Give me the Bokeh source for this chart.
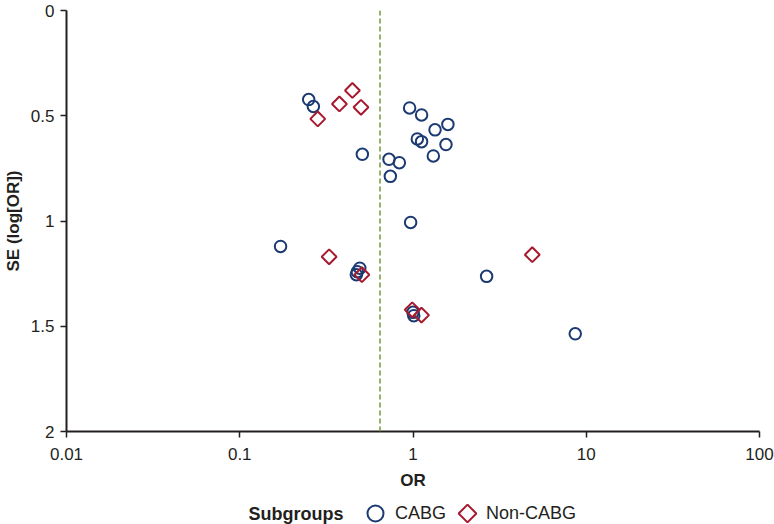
import math
from bokeh.plotting import figure
from bokeh.layouts import column
from bokeh.models import (Range1d, FixedTicker, CustomJSTickFormatter, Span,
                          Legend, LegendItem, Label)
from bokeh.embed import file_html
from bokeh.resources import INLINE

# ---- data ----
cabg_or = [0.250, 0.266, 0.510, 0.727, 0.834, 0.740, 0.956, 1.121, 1.34, 1.59,
           1.059, 1.121, 1.55, 1.31, 0.172, 0.493, 0.477, 0.471, 0.969, 2.66,
           8.64, 1.00, 1.01]
cabg_se = [0.423, 0.456, 0.683, 0.707, 0.723, 0.788, 0.463, 0.496, 0.567, 0.541,
           0.610, 0.623, 0.637, 0.691, 1.121, 1.224, 1.241, 1.255, 1.007, 1.263,
           1.536, 1.434, 1.450]
noncabg_or = [0.282, 0.376, 0.447, 0.501, 0.328, 0.507, 4.88, 0.99, 1.12]
noncabg_se = [0.515, 0.444, 0.380, 0.460, 1.170, 1.255, 1.160, 1.422, 1.447]
pooled_or = 0.645
x_ticks = [0.01, 0.1, 1, 10, 100]
y_ticks = [0, 0.5, 1, 1.5, 2]
groups = ["CABG", "Non-CABG"]
legend_title = "Subgroups"

FONT = "Liberation Sans"
AX = "#231f20"
NAVY = "#1c3a72"
RED = "#a6192e"
GREEN = "#79a043"
W = 774
LEFT, RIGHT = 66, 15

CIRCLE = dict(marker="circle", size=11.5, fill_alpha=0, line_color=NAVY, line_width=2)
DIAMOND = dict(marker="square", size=10.5, angle=math.pi / 4, fill_alpha=0,
               line_color=RED, line_width=2)

p = figure(width=W, height=493, x_axis_type="log",
           x_range=Range1d(0.01, 100), y_range=Range1d(2, 0),
           output_backend="svg", toolbar_location=None,
           min_border_left=LEFT, min_border_right=RIGHT, min_border_top=10,
           min_border_bottom=62)
p.outline_line_color = None
p.xgrid.visible = False
p.ygrid.visible = False

# axes
xa = p.xaxis[0]
xa.ticker = FixedTicker(ticks=x_ticks)
xa.formatter = CustomJSTickFormatter(code="return tick.toString();")
xa.minor_tick_line_color = None
ya = p.yaxis[0]
ya.ticker = FixedTicker(ticks=y_ticks)
ya.formatter = CustomJSTickFormatter(code="return tick.toString();")
ya.minor_tick_line_color = None
for ax in (xa, ya):
    ax.axis_line_color = AX
    ax.axis_line_width = 2
    ax.major_tick_line_color = AX
    ax.major_tick_line_width = 1.5
    ax.major_tick_out = 6
    ax.major_tick_in = 0
    ax.major_label_text_font = FONT
    ax.major_label_text_font_size = "17px"
    ax.major_label_text_color = AX
    ax.axis_label_text_font = FONT
    ax.axis_label_text_font_size = "17px"
    ax.axis_label_text_font_style = "bold"
    ax.axis_label_text_color = AX
xa.axis_label = "OR"
xa.major_label_standoff = 10
xa.axis_label_standoff = 8
ya.axis_label = "SE (log[OR])"
ya.major_label_standoff = 6
ya.axis_label_standoff = 5

# pooled estimate line
p.add_layout(Span(location=pooled_or, dimension="height", line_color=GREEN,
                  line_width=1.6, line_dash="5 3"))

p.scatter(cabg_or, cabg_se, **CIRCLE)
p.scatter(noncabg_or, noncabg_se, **DIAMOND)

# ---- legend strip below the chart (frame aligned with the chart's frame) ----
# Its x range is in pixels of the page; the renderers below only supply legend
# entries: their data fall left of this strip's x range, so they draw nothing.
H2 = 31
KEY_Y = 11
p2 = figure(width=W, height=H2, x_range=Range1d(LEFT, W - RIGHT),
            y_range=Range1d(0, H2),
            output_backend="svg", toolbar_location=None,
            x_axis_location=None, y_axis_location=None,
            min_border_left=LEFT, min_border_right=RIGHT, min_border_top=0,
            min_border_bottom=0)
p2.outline_line_color = None
p2.xgrid.visible = False
p2.ygrid.visible = False
lr1 = p2.scatter(cabg_or, cabg_se, **CIRCLE)
lr2 = p2.scatter(noncabg_or, noncabg_se, marker="square", fill_alpha=0,
                 line_alpha=0)
leg = Legend(items=[LegendItem(label=groups[0], renderers=[lr1]),
                    LegendItem(label=groups[1], renderers=[lr2])],
             orientation="horizontal", location=(355 - LEFT, KEY_Y - 20),
             label_text_font=FONT, label_text_font_size="18px",
             label_text_color=AX, label_standoff=0, spacing=0,
             glyph_width=40, glyph_height=40,
             border_line_color=None, background_fill_alpha=0,
             padding=0, margin=0)
p2.add_layout(leg, "center")
# legend key for the diamond (the legend itself cannot rotate a marker)
p2.scatter([467], [KEY_Y], marker="square", size=12.5, angle=math.pi / 4,
           fill_alpha=0, line_color=RED, line_width=2)
p2.add_layout(Label(x=248, y=KEY_Y, text=legend_title, text_font=FONT,
                    text_font_size="18px", text_font_style="bold",
                    text_color=AX, text_baseline="middle", text_align="left"))

layout = column(p, p2, spacing=0)
open("out.html", "w").write(file_html(layout, INLINE))
